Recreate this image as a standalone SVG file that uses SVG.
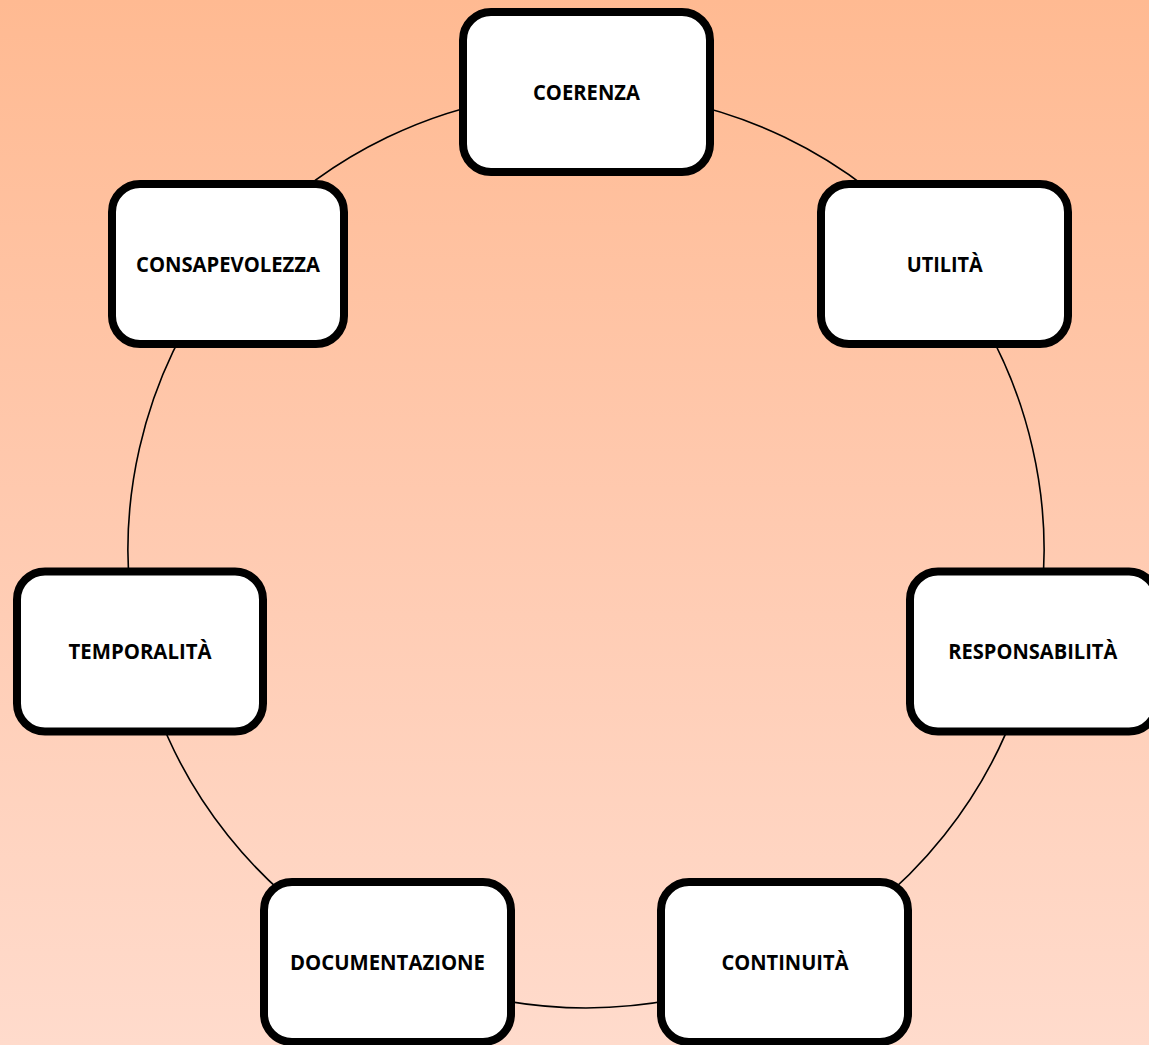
<svg xmlns="http://www.w3.org/2000/svg" width="1149" height="1045" viewBox="0 0 1149 1045">
  <defs>
    <linearGradient id="bg" x1="0" y1="0" x2="0" y2="1">
      <stop offset="0" stop-color="#FFBA92"/>
      <stop offset="0.5" stop-color="#FFCAB0"/>
      <stop offset="1" stop-color="#FFDBCC"/>
    </linearGradient>
  </defs>
  <style>
    .box { fill: #FFFFFF; stroke: #000000; stroke-width: 8; }
    .lbl { font-family: "Open Sans", "Noto Sans", "Liberation Sans", sans-serif; font-weight: 700; font-size: 21.5px; fill: #000000; text-anchor: middle; }
    .arc { fill: none; stroke: #000000; stroke-width: 1.6; }
  </style>
  <rect x="0" y="0" width="1149" height="1045" fill="url(#bg)"/>
  <g id="connectors">
    <path class="arc" d="M 586 92 A 458 458 0 0 1 944.1 264.4"/>
    <path class="arc" d="M 944.1 264.4 A 458 458 0 0 1 1032.5 651.9"/>
    <path class="arc" d="M 1032.5 651.9 A 458 458 0 0 1 784.7 962.6"/>
    <path class="arc" d="M 784.7 962.6 A 458 458 0 0 1 387.3 962.6"/>
    <path class="arc" d="M 387.3 962.6 A 458 458 0 0 1 139.5 651.9"/>
    <path class="arc" d="M 139.5 651.9 A 458 458 0 0 1 227.9 264.4"/>
    <path class="arc" d="M 227.9 264.4 A 458 458 0 0 1 586 92"/>
  </g>
  <g id="coerenza">
    <rect class="box" x="463" y="12" width="247" height="160" rx="28"/>
    <text class="lbl" x="586.5" y="99.5" textLength="107" lengthAdjust="spacingAndGlyphs">COERENZA</text>
  </g>
  <g id="utilita">
    <rect class="box" x="821" y="184" width="247" height="160" rx="28"/>
    <text class="lbl" x="944.7" y="271.8" textLength="76" lengthAdjust="spacingAndGlyphs">UTILITÀ</text>
  </g>
  <g id="responsabilita">
    <rect class="box" x="910" y="571.5" width="247" height="160" rx="28"/>
    <text class="lbl" x="1032.8" y="659.3" textLength="169" lengthAdjust="spacingAndGlyphs">RESPONSABILITÀ</text>
  </g>
  <g id="continuita">
    <rect class="box" x="661" y="882" width="247" height="160" rx="28"/>
    <text class="lbl" x="785" y="970" textLength="127" lengthAdjust="spacingAndGlyphs">CONTINUITÀ</text>
  </g>
  <g id="documentazione">
    <rect class="box" x="264" y="882" width="247" height="160" rx="28"/>
    <text class="lbl" x="387.5" y="970" textLength="195" lengthAdjust="spacingAndGlyphs">DOCUMENTAZIONE</text>
  </g>
  <g id="temporalita">
    <rect class="box" x="17" y="571.5" width="246" height="160" rx="28"/>
    <text class="lbl" x="140" y="659.3" textLength="143" lengthAdjust="spacingAndGlyphs">TEMPORALITÀ</text>
  </g>
  <g id="consapevolezza">
    <rect class="box" x="112" y="184" width="232" height="160" rx="28"/>
    <text class="lbl" x="228" y="271.8" textLength="184" lengthAdjust="spacingAndGlyphs">CONSAPEVOLEZZA</text>
  </g>
</svg>
